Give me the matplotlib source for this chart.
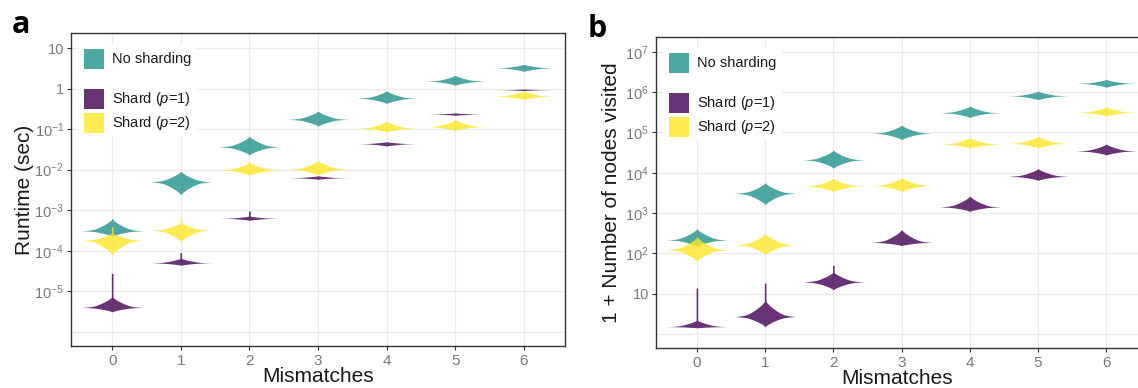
import numpy as np
import matplotlib
matplotlib.use("Agg")
import matplotlib.pyplot as plt
from matplotlib.patches import Rectangle

plt.rcParams["font.family"] = ["Liberation Sans", "DejaVu Sans"]
plt.rcParams["mathtext.fontset"] = "custom"
plt.rcParams["mathtext.rm"] = "Liberation Sans"
plt.rcParams["mathtext.it"] = "Liberation Sans:italic"

mismatches = [0, 1, 2, 3, 4, 5, 6]
series_labels = ["No sharding", r"Shard ($\mathit{p}$=1)", r"Shard ($\mathit{p}$=2)"]

# ---- Panel a: runtime (log10 sec): mode, lower end, upper end, thin upper tail
rt_none_mid = [-3.51, -2.30, -1.44, -0.76, -0.24, 0.18, 0.51]
rt_none_lo = [-3.65, -2.63, -1.64, -0.93, -0.37, 0.08, 0.42]
rt_none_hi = [-3.20, -2.03, -1.17, -0.55, -0.05, 0.33, 0.60]
rt_none_tail = [None, None, None, None, None, None, None]

rt_p1_mid = [-5.40, -4.30, -3.20, -2.20, -1.36, -0.63, -0.03]
rt_p1_lo = [-5.51, -4.36, -3.25, -2.24, -1.42, -0.66, -0.05]
rt_p1_hi = [-5.12, -4.18, -3.14, -2.15, -1.31, -0.60, -0.01]
rt_p1_tail = [-4.56, -4.05, -3.02, None, None, None, None]

rt_p2_mid = [-3.74, -3.49, -2.01, -1.99, -0.98, -0.94, -0.19]
rt_p2_lo = [-4.11, -3.78, -2.14, -2.14, -1.07, -1.04, -0.27]
rt_p2_hi = [-3.55, -3.30, -1.81, -1.77, -0.80, -0.76, -0.05]
rt_p2_tail = [-3.41, -3.20, None, None, None, None, None]

# ---- Panel b: 1 + nodes visited (log10)
nv_none_mid = [2.33, 3.49, 4.32, 4.98, 5.49, 5.91, 6.22]
nv_none_lo = [2.17, 3.20, 4.11, 4.82, 5.37, 5.81, 6.12]
nv_none_hi = [2.62, 3.76, 4.57, 5.19, 5.66, 6.03, 6.32]
nv_none_tail = [None, None, None, None, None, None, None]

nv_p1_mid = [0.18, 0.43, 1.29, 2.27, 3.15, 3.91, 4.54]
nv_p1_lo = [0.15, 0.17, 1.09, 2.19, 3.04, 3.81, 4.44]
nv_p1_hi = [0.35, 0.85, 1.55, 2.60, 3.43, 4.11, 4.72]
nv_p1_tail = [1.14, 1.26, 1.70, None, None, None, None]

nv_p2_mid = [2.09, 2.21, 3.67, 3.68, 4.71, 4.73, 5.50]
nv_p2_lo = [1.80, 1.96, 3.53, 3.53, 4.61, 4.61, 5.41]
nv_p2_hi = [2.42, 2.50, 3.87, 3.89, 4.88, 4.92, 5.64]
nv_p2_tail = [None, None, None, None, None, None, None]

cmap = plt.get_cmap("viridis")
colors = [cmap(0.5), cmap(0.0), cmap(1.0)]
ALPHA = 0.8
HALF_W = 0.45

W, H = 1138, 388
fig = plt.figure(figsize=(W / 100, H / 100), dpi=100)


def px_axes(l, t, r, b):
    return fig.add_axes([l / W, 1 - b / H, (r - l) / W, (b - t) / H])


def profile(u):
    u = np.clip(u, 0, 1)
    return 0.32 * np.exp(-u / 0.06) * (1 - u) + 0.68 * (1 - u) ** 1.45


def violin(ax, x, mid, lo, hi, tail, color):
    top = hi if tail is None else max(hi, tail)
    ys = np.linspace(lo, top, 800)
    hw = np.zeros_like(ys)
    below = ys <= mid
    if mid > lo:
        hw[below] = HALF_W * profile((mid - ys[below]) / (mid - lo))
    above = ys > mid
    hw[above] = HALF_W * profile((ys[above] - mid) / max(hi - mid, 1e-6))
    if tail is not None:
        t = (ys > mid) & (ys <= tail)
        hw[t] = np.maximum(hw[t], 0.012)
    ax.fill_betweenx(10.0 ** ys, x - hw, x + hw, color=color, alpha=ALPHA,
                     linewidth=0, zorder=3)


def style_axes(ax, ylim, ticks, ticklabels, xright):
    ax.set_yscale("log")
    ax.set_ylim(*ylim)
    ax.set_xlim(-0.6, xright)
    ax.set_xticks(mismatches)
    ax.set_xticklabels([str(m) for m in mismatches])
    ax.set_yticks(ticks)
    ax.set_yticklabels(ticklabels)
    ax.yaxis.set_minor_locator(matplotlib.ticker.NullLocator())
    ax.grid(True, color="#EBEBEB", linewidth=1.0, zorder=0)
    ax.set_axisbelow(True)
    for s in ax.spines.values():
        s.set_color("#333333")
        s.set_linewidth(1.0)
    ax.tick_params(axis="both", length=3, width=0.8, color="#333333",
                   labelcolor="#7a7a7a", labelsize=10.5, pad=2)
    ax.tick_params(axis="x", pad=2.5, labelsize=11)
    ax.yaxis.get_major_ticks()[0].tick1line.set_visible(False)


def legend_box(ax, l_px, t_px):
    inv = fig.transFigure
    def fx(x):
        return (l_px + x) / W
    def fy(y):
        return 1 - (t_px + y) / H
    fig.patches.append(Rectangle((fx(7), fy(103)), 119 / W, 92 / H,
                                 transform=inv, facecolor="white",
                                 edgecolor="none", zorder=1))
    tops = [16, 56, 80]
    for lab, c, tp in zip(series_labels, colors, tops):
        fig.patches.append(Rectangle((fx(13), fy(tp + 20)), 20 / W, 20 / H,
                                     transform=inv, facecolor=c, alpha=ALPHA,
                                     edgecolor="none", zorder=2))
        fig.text(fx(41), fy(tp + 10), lab, fontsize=10.5, color="#1a1a1a",
                 va="center", ha="left", zorder=3)


# ---------------- panel a
axa = px_axes(71, 33, 565, 346)
groups_a = [
    (rt_none_mid, rt_none_lo, rt_none_hi, rt_none_tail),
    (rt_p1_mid, rt_p1_lo, rt_p1_hi, rt_p1_tail),
    (rt_p2_mid, rt_p2_lo, rt_p2_hi, rt_p2_tail),
]
for (mid, lo, hi, tail), c in zip(groups_a, colors):
    for i, x in enumerate(mismatches):
        violin(axa, x, mid[i], lo[i], hi[i], tail[i], c)
style_axes(axa, (10 ** -6.35, 10 ** 1.37),
           [1e-6, 1e-5, 1e-4, 1e-3, 1e-2, 1e-1, 1, 10],
           ["", r"$\mathregular{10^{-5}}$", r"$\mathregular{10^{-4}}$",
            r"$\mathregular{10^{-3}}$", r"$\mathregular{10^{-2}}$",
            r"$\mathregular{10^{-1}}$", "1", "10"], 6.6)
axa.set_xlabel("Mismatches", fontsize=15, color="#1a1a1a")
axa.xaxis.set_label_coords(0.5, -(377 - 346) / 313)
axa.xaxis.label.set_va("center")
axa.set_ylabel("Runtime (sec)", fontsize=15, color="#1a1a1a")
axa.yaxis.set_label_coords(-(71 - 24) / 494, 0.5)
axa.yaxis.label.set_va("center")
legend_box(axa, 71, 33)

# ---------------- panel b
axb = px_axes(656, 37, 1139, 348)
groups_b = [
    (nv_none_mid, nv_none_lo, nv_none_hi, nv_none_tail),
    (nv_p1_mid, nv_p1_lo, nv_p1_hi, nv_p1_tail),
    (nv_p2_mid, nv_p2_lo, nv_p2_hi, nv_p2_tail),
]
for (mid, lo, hi, tail), c in zip(groups_b, colors):
    for i, x in enumerate(mismatches):
        violin(axb, x, mid[i], lo[i], hi[i], tail[i], c)
style_axes(axb, (10 ** -0.35, 10 ** 7.37),
           [1, 10, 1e2, 1e3, 1e4, 1e5, 1e6, 1e7],
           ["", "10", r"$\mathregular{10^{2}}$", r"$\mathregular{10^{3}}$",
            r"$\mathregular{10^{4}}$", r"$\mathregular{10^{5}}$",
            r"$\mathregular{10^{6}}$", r"$\mathregular{10^{7}}$"], 6.48)
axb.set_xlabel("Mismatches", fontsize=15, color="#1a1a1a")
axb.xaxis.set_label_coords(0.5, -(378 - 348) / 311)
axb.xaxis.label.set_va("center")
axb.set_ylabel("1 + Number of nodes visited", fontsize=15, color="#1a1a1a")
axb.yaxis.set_label_coords(-(656 - 612) / 483, 0.5)
axb.yaxis.label.set_va("center")
legend_box(axb, 656, 37)

fig.text(12 / W, 1 - 33 / H, "a", fontsize=22, fontweight="bold",
         family=["Open Sans", "DejaVu Sans"], va="baseline", ha="left")
fig.text(588 / W, 1 - 37 / H, "b", fontsize=22, fontweight="bold",
         family=["Open Sans", "DejaVu Sans"], va="baseline", ha="left")

fig.savefig("out.png", dpi=100)
